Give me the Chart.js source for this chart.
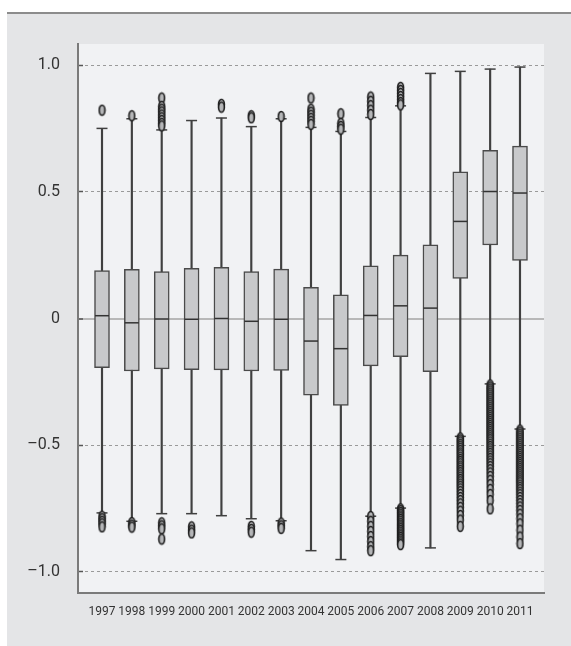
<!DOCTYPE html>
<html>
<head>
<meta charset="utf-8">
<script src="https://cdn.jsdelivr.net/npm/chart.js@4"></script>
<style>
html, body { margin:0; padding:0; background:#fff; }
#panel { position:absolute; left:7px; top:12px; width:564px; height:634px; background:#e4e5e7; border-top:2px solid #8c8c8c; box-sizing:border-box; }
#wrap { position:absolute; left:0; top:0; width:571px; height:646px; }
</style>
</head>
<body>
<div id="panel"></div>
<div id="wrap"><canvas id="chart" width="571" height="646"></canvas></div>
<script>
const years = [1997,1998,1999,2000,2001,2002,2003,2004,2005,2006,2007,2008,2009,2010,2011];
const yearLabels = ["1997","1998","1999","2000","2001","2002","2003","2004","2005","2006","2007","2008","2009","2010","2011"];

// box: lower quartile, median, upper quartile
const q1  = [-0.194,-0.207,-0.199,-0.202,-0.203,-0.207,-0.205,-0.302,-0.343,-0.187,-0.151,-0.210,0.158,0.290,0.229];
const med = [0.011,-0.017,-0.002,-0.003,0.000,-0.011,-0.003,-0.089,-0.119,0.012,0.050,0.041,0.383,0.501,0.495];
const q3  = [0.189,0.194,0.185,0.198,0.202,0.185,0.195,0.123,0.093,0.208,0.250,0.291,0.579,0.663,0.680];

// whisker ends
const whiskLo = [-0.767,-0.800,-0.770,-0.770,-0.778,-0.790,-0.798,-0.916,-0.951,-0.780,-0.748,-0.905,-0.465,-0.258,-0.436];
const whiskHi = [0.750,0.788,0.744,0.781,0.791,0.757,0.788,0.754,0.738,0.793,0.839,0.967,0.975,0.984,0.992];

// outliers, one list per year
const outlierValues = [
  [0.822,-0.780,-0.790,-0.800,-0.810,-0.822],
  [0.800,-0.805,-0.815,-0.823],
  [0.870,0.837,0.826,0.815,0.803,0.792,0.781,0.770,0.760,-0.806,-0.818,-0.830,-0.870],
  [-0.822,-0.835,-0.846],
  [0.845,0.834],
  [0.800,0.792,-0.820,-0.832,-0.843],
  [0.797,-0.807,-0.818,-0.828],
  [0.870,0.826,0.814,0.802,0.790,0.778,0.766],
  [0.808,0.770,0.758,0.747],
  [0.874,0.857,0.840,0.822,0.805,-0.781,-0.800,-0.820,-0.840,-0.860,-0.880,-0.900,-0.916],
  [0.912,0.900,0.888,0.876,0.864,0.852,0.843,
   -0.751,-0.758,-0.765,-0.772,-0.779,-0.786,-0.793,-0.800,-0.808,-0.815,-0.822,-0.829,-0.836,-0.843,-0.850,-0.857,-0.864,-0.871,-0.878,-0.885,-0.892],
  [],
  [-0.471,-0.479,-0.487,-0.496,-0.504,-0.512,-0.521,-0.530,-0.538,-0.547,-0.556,-0.564,-0.573,-0.582,-0.590,-0.599,-0.608,-0.617,
   -0.626,-0.635,-0.644,-0.653,-0.662,-0.672,-0.683,-0.694,-0.706,-0.718,-0.731,-0.745,-0.760,-0.777,-0.795,-0.820],
  [-0.262,-0.270,-0.278,-0.286,-0.294,-0.302,-0.310,-0.318,-0.326,-0.334,-0.342,-0.350,-0.358,-0.366,-0.374,-0.382,-0.390,-0.398,
   -0.406,-0.414,-0.422,-0.430,-0.438,-0.446,-0.454,-0.462,-0.470,-0.478,-0.487,-0.496,-0.505,-0.514,-0.523,-0.532,-0.542,-0.552,
   -0.562,-0.573,-0.584,-0.596,-0.609,-0.623,-0.638,-0.655,-0.674,-0.694,-0.718,-0.751],
  [-0.440,-0.448,-0.456,-0.464,-0.472,-0.480,-0.488,-0.496,-0.504,-0.512,-0.520,-0.528,-0.536,-0.544,-0.552,-0.560,-0.568,-0.576,
   -0.584,-0.592,-0.600,-0.608,-0.616,-0.624,-0.632,-0.640,-0.648,-0.657,-0.666,-0.675,-0.685,-0.695,-0.706,-0.718,-0.730,-0.743,
   -0.757,-0.772,-0.790,-0.810,-0.835,-0.862,-0.888]
];

const yTicks = [-1, -0.5, 0, 0.5, 1];
const yTickLabels = ["\u20131.0", "\u20130.5", "0", "0.5", "1.0"];

const FONT = "Roboto, 'Liberation Sans', sans-serif";

// small oval marker used for outliers
function ovalMarker(){
  const c = document.createElement("canvas");
  c.width = 9; c.height = 13;
  const g = c.getContext("2d");
  g.beginPath();
  g.ellipse(4.5, 6.5, 2.9, 5, 0, 0, Math.PI * 2);
  g.fillStyle = "#b5b6b8";
  g.fill();
  g.lineWidth = 1.6;
  g.strokeStyle = "#1e1e1e";
  g.stroke();
  return c;
}

const plotBg = {
  id: "plotBg",
  beforeDraw(chart){
    const {ctx, chartArea: a} = chart;
    ctx.save();
    ctx.fillStyle = "#f1f2f4";
    ctx.fillRect(a.left, a.top, a.right - a.left, a.bottom - a.top);
    ctx.restore();
  }
};

const whiskerData = years.map((y, i) => ({x: y, y: [whiskLo[i], whiskHi[i]]}));
const boxData = years.map((y, i) => ({x: y, y: [q1[i], q3[i]]}));
const medianData = years.map((y, i) => ({x: y, y: med[i]}));
const capData = [];
years.forEach((y, i) => { capData.push({x: y, y: whiskLo[i]}); capData.push({x: y, y: whiskHi[i]}); });
const outlierData = [];
years.forEach((y, i) => outlierValues[i].forEach(v => outlierData.push({x: y, y: v})));

new Chart(document.getElementById("chart"), {
  type: "bar",
  data: {
    datasets: [
      {type: "bar", label: "whisker", data: whiskerData, backgroundColor: "#404040",
       barThickness: 1.5, grouped: false, order: 5},
      {type: "bar", label: "box", data: boxData, backgroundColor: "#c8c9cb", borderColor: "#4a4a4a",
       borderWidth: 1.5, borderSkipped: false, barThickness: 15, grouped: false, order: 4},
      {type: "line", label: "median", data: medianData, showLine: false, pointStyle: "line",
       pointRadius: 7, pointBorderColor: "#333", pointBorderWidth: 1.5, order: 3},
      {type: "line", label: "caps", data: capData, showLine: false, pointStyle: "line",
       pointRadius: 5.5, pointBorderColor: "#404040", pointBorderWidth: 1.5, order: 3},
      {type: "line", label: "outliers", data: outlierData, showLine: false, pointStyle: ovalMarker(),
       pointRadius: 5, order: 1}
    ]
  },
  options: {
    responsive: false,
    animation: false,
    events: [],
    layout: {padding: {left: 0, top: 44, right: 27, bottom: 0}},
    plugins: {legend: {display: false}, tooltip: {enabled: false}},
    scales: {
      x: {
        type: "linear", min: 1996.196, max: 2011.804, offset: false,
        afterBuildTicks: s => { s.ticks = years.map(v => ({value: v})); },
        afterFit: s => { s.height = 53; },
        grid: {display: false, drawTicks: false},
        border: {display: true, color: "#7a7a7a", width: 2},
        ticks: {padding: 12, maxRotation: 0, autoSkip: false, color: "#333",
                font: {family: FONT, size: 12}, callback: (v, i) => yearLabels[i]}
      },
      y: {
        min: -1.083, max: 1.083,
        afterBuildTicks: s => { s.ticks = yTicks.map(v => ({value: v})); },
        afterFit: s => { s.width = 78; },
        grid: {
          color: c => (c.tick && c.tick.value === 0) ? "#b8b8b8" : "#9a9a9a",
          lineWidth: c => (c.tick && c.tick.value === 0) ? 2 : 1,
          drawTicks: true, tickLength: -5, tickColor: "#555", tickWidth: 1.5
        },
        border: {display: true, color: "#7a7a7a", width: 2,
                 dash: c => (c.tick && c.tick.value !== 0) ? [3, 3] : []},
        ticks: {padding: 23, color: "#333", font: {family: FONT, size: 16},
                callback: (v, i) => yTickLabels[i]}
      }
    }
  },
  plugins: [plotBg]
});
</script>
</body>
</html>
